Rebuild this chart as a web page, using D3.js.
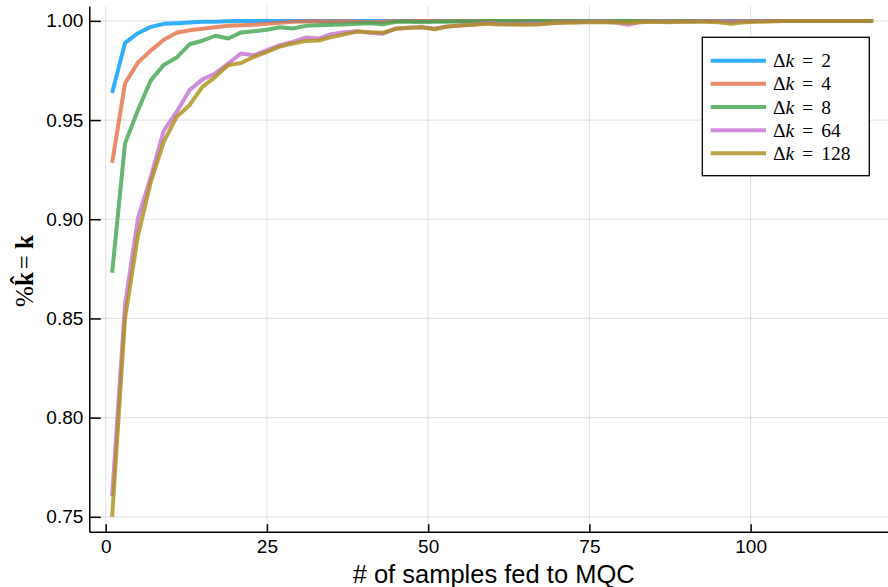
<!DOCTYPE html>
<html><head><meta charset="utf-8">
<script src="https://cdn.jsdelivr.net/npm/d3@7"></script>
<style>body{margin:0;background:#fff} svg{display:block}</style>
</head><body><svg id="c" width="888" height="587"></svg>
<script>
const samples = [1,3,5,7,9,11,13,15,17,19,21,23,25,27,29,31,33,35,37,39,41,43,45,47,49,51,53,55,57,59,
  61,63,65,67,69,71,73,75,77,79,81,83,85,87,89,91,93,95,97,99,101,103,105,107,109,111,113,115,117,119];
const dk2 = [0.9636,0.9889,0.9938,0.9970,0.9985,0.9988,0.9992,0.9995,0.9996,0.9998,1,1,1,1,1,1,1,1,1,1,
  1,1,1,1,1,1,1,1,1,1,1,1,1,1,1,1,1,1,1,1,1,1,1,1,1,1,1,1,1,1,1,1,1,1,1,1,1,1,1,1];
const dk4 = [0.9284,0.9685,0.9790,0.9850,0.9905,0.9940,0.9953,0.9960,0.9968,0.9975,0.9978,0.9980,0.9985,0.9990,0.9995,0.9997,0.9998,0.9997,0.9998,0.9995,
  0.9993,0.9995,0.9998,1,1,1,1,1,1,1,1,1,1,1,1,1,1,1,1,1,1,1,1,1,1,1,1,1,1,1,1,1,1,1,1,1,1,1,1,1];
const dk8 = [0.8730,0.9382,0.9550,0.9700,0.9778,0.9815,0.9882,0.9900,0.9925,0.9911,0.9942,0.9948,0.9955,0.9968,0.9962,0.9975,0.9978,0.9980,0.9982,0.9985,
  0.9988,0.9983,0.9995,0.9995,0.9993,0.9995,0.9995,0.9997,0.9997,0.9998,1,0.9998,0.9998,1,0.9998,0.9998,1,1,0.9998,1,
  0.9998,1,1,0.9998,1,1,1,1,1,1,1,1,1,1,1,1,1,1,1,1];
const dk64 = [0.7604,0.8570,0.9004,0.9214,0.9446,0.9541,0.9651,0.9705,0.9735,0.9785,0.9836,0.9827,0.9852,0.9878,0.9894,0.9916,0.9911,0.9933,0.9943,0.9948,
  0.9940,0.9935,0.9962,0.9965,0.9968,0.9962,0.9972,0.9977,0.9982,0.9990,0.9985,0.9983,0.9985,0.9985,0.9988,0.9993,0.9993,0.9995,0.9995,0.9993,
  0.9980,0.9995,0.9997,0.9997,0.9995,0.9997,0.9998,0.9998,0.9995,0.9998,1,1,1,1,1,1,1,1,1,1];
const dk128 = [0.7500,0.8500,0.8915,0.9189,0.9390,0.9516,0.9575,0.9667,0.9718,0.9777,0.9788,0.9819,0.9844,0.9870,0.9886,0.9899,0.9901,0.9918,0.9932,0.9946,
  0.9943,0.9940,0.9960,0.9965,0.9968,0.9958,0.9972,0.9977,0.9980,0.9985,0.9982,0.9982,0.9980,0.9982,0.9988,0.9990,0.9992,0.9993,0.9993,0.9992,
  0.9990,0.9993,0.9995,0.9993,0.9995,0.9995,0.9995,0.9993,0.9985,0.9993,0.9995,0.9997,1,1,1,1,1,1,1,1];
const seriesLabels = ["2","4","8","64","128"];
const seriesValues = [dk2, dk4, dk8, dk64, dk128];
const colors = ["#009AFA","#E36F47","#3EA44E","#C371D2","#AC8E18"];
const xTicks = [0,25,50,75,100];
const yTicks = [0.75,0.80,0.85,0.90,0.95,1.00];
const xTitle = "# of samples fed to MQC";

const svg = d3.select("#c");
const L = 89.3, R = 896, T = 6, B = 531.7;
const x = d3.scaleLinear().domain([-2.54,122.54]).range([L,R]);
const y = d3.scaleLinear().domain([0.7425,1.0075]).range([B,T]);
const sans = "'Liberation Sans', Arial, Helvetica, sans-serif";
const serif = "'Liberation Serif', 'DejaVu Serif', serif";

// grid
const g = svg.append("g").attr("stroke","#000").attr("stroke-opacity",0.1).attr("stroke-width",1.2);
g.selectAll("line.gx").data(xTicks).join("line").attr("x1",d=>x(d)).attr("x2",d=>x(d)).attr("y1",T).attr("y2",B);
g.selectAll("line.gy").data(yTicks).join("line").attr("y1",d=>y(d)).attr("y2",d=>y(d)).attr("x1",L).attr("x2",R);

// axes
const ax = svg.append("g").attr("transform",`translate(0,${B})`)
  .call(d3.axisBottom(x).tickValues(xTicks).tickSize(-7.5).tickSizeOuter(0).tickPadding(8).tickFormat(d3.format("d")));
const ay = svg.append("g").attr("transform",`translate(${L},0)`)
  .call(d3.axisLeft(y).tickValues(yTicks).tickSize(-11.5).tickSizeOuter(0).tickPadding(6).tickFormat(d3.format(".2f")));
[ax,ay].forEach(a=>{
  a.select(".domain").attr("stroke","#000").attr("stroke-width",1.5);
  a.selectAll(".tick line").attr("stroke","#000").attr("stroke-width",1.5);
  a.selectAll(".tick text").attr("fill","#000").style("font-family",sans).style("font-size","19px");
});

// lines
const line = d3.line().x((d,i)=>x(samples[i])).y(d=>y(d));
seriesValues.forEach((vals,k)=>{
  svg.append("path").datum(vals).attr("d",line).attr("fill","none")
    .attr("stroke",colors[k]).attr("stroke-opacity",0.8).attr("stroke-width",4)
    .attr("stroke-linejoin","round");
});

// titles
svg.append("text").attr("x",(L+R)/2 + 1).attr("y",583).attr("text-anchor","middle")
  .style("font-family",sans).style("font-size","25.5px").attr("fill","#000").text(xTitle);
const yl = svg.append("text").attr("transform","translate(33,271) rotate(-90)").attr("text-anchor","middle")
  .style("font-family",serif).style("font-size","25px").attr("fill","#000");
yl.append("tspan").text("%");
yl.append("tspan").attr("font-weight","bold").text("k\u0302");
yl.append("tspan").attr("dx",3).text("=");
yl.append("tspan").attr("dx",6).attr("font-weight","bold").text("k");

// legend
const lg = svg.append("g");
lg.append("rect").attr("x",702.3).attr("y",37.3).attr("width",167).attr("height",138.4)
  .attr("fill","#fff").attr("stroke","#000").attr("stroke-width",1.3);
const rowY = d3.scaleLinear().domain([0,4]).range([60.7,153.3]);
seriesLabels.forEach((lab,k)=>{
  const cy = rowY(k);
  lg.append("line").attr("x1",710.7).attr("x2",766).attr("y1",cy).attr("y2",cy)
    .attr("stroke",colors[k]).attr("stroke-opacity",0.8).attr("stroke-width",4);
  const t = lg.append("text").attr("x",773).attr("y",cy+6.5)
    .style("font-family",serif).style("font-size","19.5px").attr("fill","#000");
  t.append("tspan").text("\u0394");
  t.append("tspan").attr("font-style","italic").text("k");
  t.append("tspan").attr("dx",8).text("=");
  t.append("tspan").attr("dx",8).text(lab);
});
</script></body></html>
